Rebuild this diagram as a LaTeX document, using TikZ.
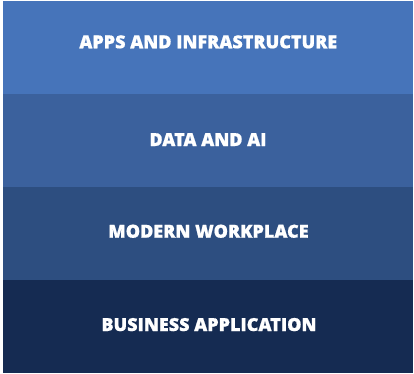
\documentclass[tikz,border=0pt]{standalone}
\usepackage{fontspec}
\setmainfont{Open Sans}
\newfontfamily\lblfont{Open Sans Bold}[FakeBold=0.8]
\definecolor{c1}{HTML}{4674BA}
\definecolor{c2}{HTML}{3B619D}
\definecolor{c3}{HTML}{2D4E80}
\definecolor{c4}{HTML}{152B52}
\begin{document}
\begin{tikzpicture}[x=1pt,y=-1pt,
  lbl/.style={anchor=base,text=white,font=\fontsize{18}{20}\lblfont\bfseries,inner sep=0pt}]
\useasboundingbox[fill=white] (0,0) rectangle (414,373);
\fill[c1] (3,1) rectangle (413,94);
\fill[c2] (3,94) rectangle (413,187);
\fill[c3] (3,187) rectangle (413,280);
\fill[c4] (3,280) rectangle (413,373);
\node[lbl] (t1) at (208.3,48.3) {APPS AND INFRASTRUCTURE};
\node[lbl] (t2) at (208,146) {DATA AND AI};
\node[lbl] (t3) at (208.5,237.7) {MODERN WORKPLACE};
\node[lbl] (t4) at (209,331) {BUSINESS APPLICATION};
\end{tikzpicture}
\end{document}
